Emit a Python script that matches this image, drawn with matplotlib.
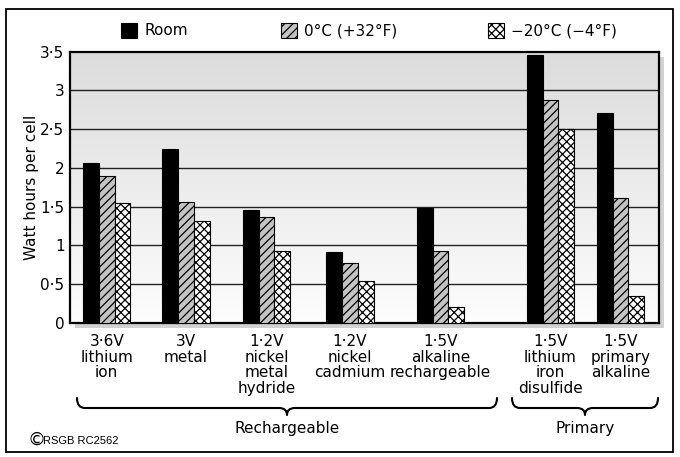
import numpy as np
import matplotlib
matplotlib.use("Agg")
import matplotlib.pyplot as plt
from matplotlib.patches import Rectangle, PathPatch
from matplotlib.path import Path
from matplotlib.transforms import Affine2D

# ---- data -------------------------------------------------------------
categories = [
    "3·6V\nlithium\nion",
    "3V\nmetal",
    "1·2V\nnickel\nmetal\nhydride",
    "1·2V\nnickel\ncadmium",
    "1·5V\nalkaline\nrechargeable",
    "1·5V\nlithium\niron\ndisulfide",
    "1·5V\nprimary\nalkaline",
]
room = [2.06, 2.25, 1.46, 0.92, 1.49, 3.46, 2.71]
zero_c = [1.90, 1.56, 1.37, 0.78, 0.93, 2.88, 1.61]
minus20_c = [1.545, 1.32, 0.93, 0.54, 0.20, 2.50, 0.35]
series_names = ["Room", "0°C (+32°F)", "−20°C (−4°F)"]
ytick_values = [0, 0.5, 1, 1.5, 2, 2.5, 3, 3.5]
ytick_labels = ["0", "0·5", "1", "1·5", "2", "2·5", "3", "3·5"]
group_names = ["Rechargeable", "Primary"]

# ---- layout -------------------------------------------------------------
W, H = 680, 457
group_x = [106.7, 186, 266.5, 350, 440.5, 550.5, 620.5]   # group centres (axis units)
bar_w = 15.8
FONT = "DejaVu Sans"
FS = 11

plt.rcParams["font.family"] = [FONT]
plt.rcParams["hatch.linewidth"] = 0.9

fig = plt.figure(figsize=(W / 100, H / 100), dpi=100)
fig.patch.set_facecolor("white")

# pixel coordinates measured from the top-left corner of the figure
PX = Affine2D().scale(1 / W, -1 / H).translate(0, 1) + fig.transFigure

ax_l, ax_r, ax_t, ax_b = 70, 659, 51.7, 323
ax = fig.add_axes([ax_l / W, 1 - ax_b / H, (ax_r - ax_l) / W, (ax_b - ax_t) / H])
ax.set_zorder(1)

# drop shadow behind the plot area
fig.patches.append(Rectangle((ax_l + 5, ax_t + 5), ax_r - ax_l, ax_b - ax_t,
                             transform=PX, facecolor="#d2d2d2",
                             edgecolor="none", zorder=0))

# outer frame
fig.patches.append(Rectangle((6, 9), 667, 443, transform=PX, fill=False,
                             edgecolor="black", linewidth=1.3, zorder=0))

# vertical grey-to-white gradient background
grad = np.linspace(0, 1, 256).reshape(-1, 1)
ax.imshow(grad, extent=[0, 1, 0, 1], transform=ax.transAxes, aspect="auto",
          cmap=matplotlib.colors.LinearSegmentedColormap.from_list(
              "bg", ["#fdfdfd", "#dcdcdc"]), origin="lower", zorder=0)

ax.set_xlim(ax_l, ax_r)
ax.set_ylim(0, 3.5)

for yv in ytick_values[1:-1]:
    ax.axhline(yv, color="#222222", linewidth=1.0, zorder=1)

x = np.array(group_x)
ax.bar(x - bar_w, room, bar_w, color="black", edgecolor="black",
       linewidth=0.8, zorder=3, label=series_names[0])
ax.bar(x, zero_c, bar_w, color="#c4c4c4", edgecolor="black", hatch="////",
       linewidth=0.8, zorder=3, label=series_names[1])
ax.bar(x + bar_w, minus20_c, bar_w, color="white", edgecolor="black",
       hatch="xxxx", linewidth=0.8, zorder=3, label=series_names[2])

for s in ax.spines.values():
    s.set_linewidth(1.6)
    s.set_color("black")

ax.set_yticks(ytick_values)
ax.set_yticklabels(ytick_labels, fontsize=FS)
ax.set_xticks(group_x)
ax.set_xticklabels(categories, fontsize=FS, linespacing=1.05)
ax.tick_params(axis="both", length=0)
ax.tick_params(axis="x", pad=8)
ax.tick_params(axis="y", pad=4)
ax.set_ylabel("Watt hours per cell", fontsize=FS)
ax.yaxis.set_label_coords((39 - ax_l) / (ax_r - ax_l), 0.5)

# legend row across the top
legend_items = [
    (121, dict(facecolor="black", hatch=None)),
    (281, dict(facecolor="#c4c4c4", hatch="////")),
    (488, dict(facecolor="white", hatch="xxxx")),
]
for (lx, style), name in zip(legend_items, series_names):
    fig.patches.append(Rectangle((lx, 22.5), 15.5, 15.5, transform=PX,
                                 edgecolor="black", linewidth=0.8,
                                 zorder=2, **style))
    fig.text(lx + 23, 30.5, name, transform=PX, fontsize=FS,
             ha="left", va="center")


def brace(x0, x1, y_line, depth=7, hook=10, r=8):
    xm = (x0 + x1) / 2
    verts = [
        (x0, y_line - hook), (x0, y_line), (x0 + r, y_line),
        (xm - r, y_line), (xm, y_line), (xm, y_line + depth),
        (xm, y_line), (xm + r, y_line),
        (x1 - r, y_line), (x1, y_line), (x1, y_line - hook),
    ]
    codes = [Path.MOVETO, Path.CURVE3, Path.CURVE3,
             Path.LINETO, Path.CURVE3, Path.CURVE3,
             Path.CURVE3, Path.CURVE3,
             Path.LINETO, Path.CURVE3, Path.CURVE3]
    fig.patches.append(PathPatch(Path(verts, codes), transform=PX, fill=False,
                                 edgecolor="black", linewidth=1.5,
                                 capstyle="round", joinstyle="round"))
    return xm


for (bx0, bx1), name in zip([(77, 497), (512, 658)], group_names):
    xm = brace(bx0, bx1, 408)
    fig.text(xm, 429, name, transform=PX, fontsize=FS, ha="center",
             va="center")

fig.text(27, 440, "©", transform=PX, fontsize=13, ha="left", va="center")
fig.text(43, 440.5, "RSGB RC2562", transform=PX, fontsize=8,
         family="Liberation Sans", ha="left", va="center")

fig.savefig("out.png", dpi=100)
